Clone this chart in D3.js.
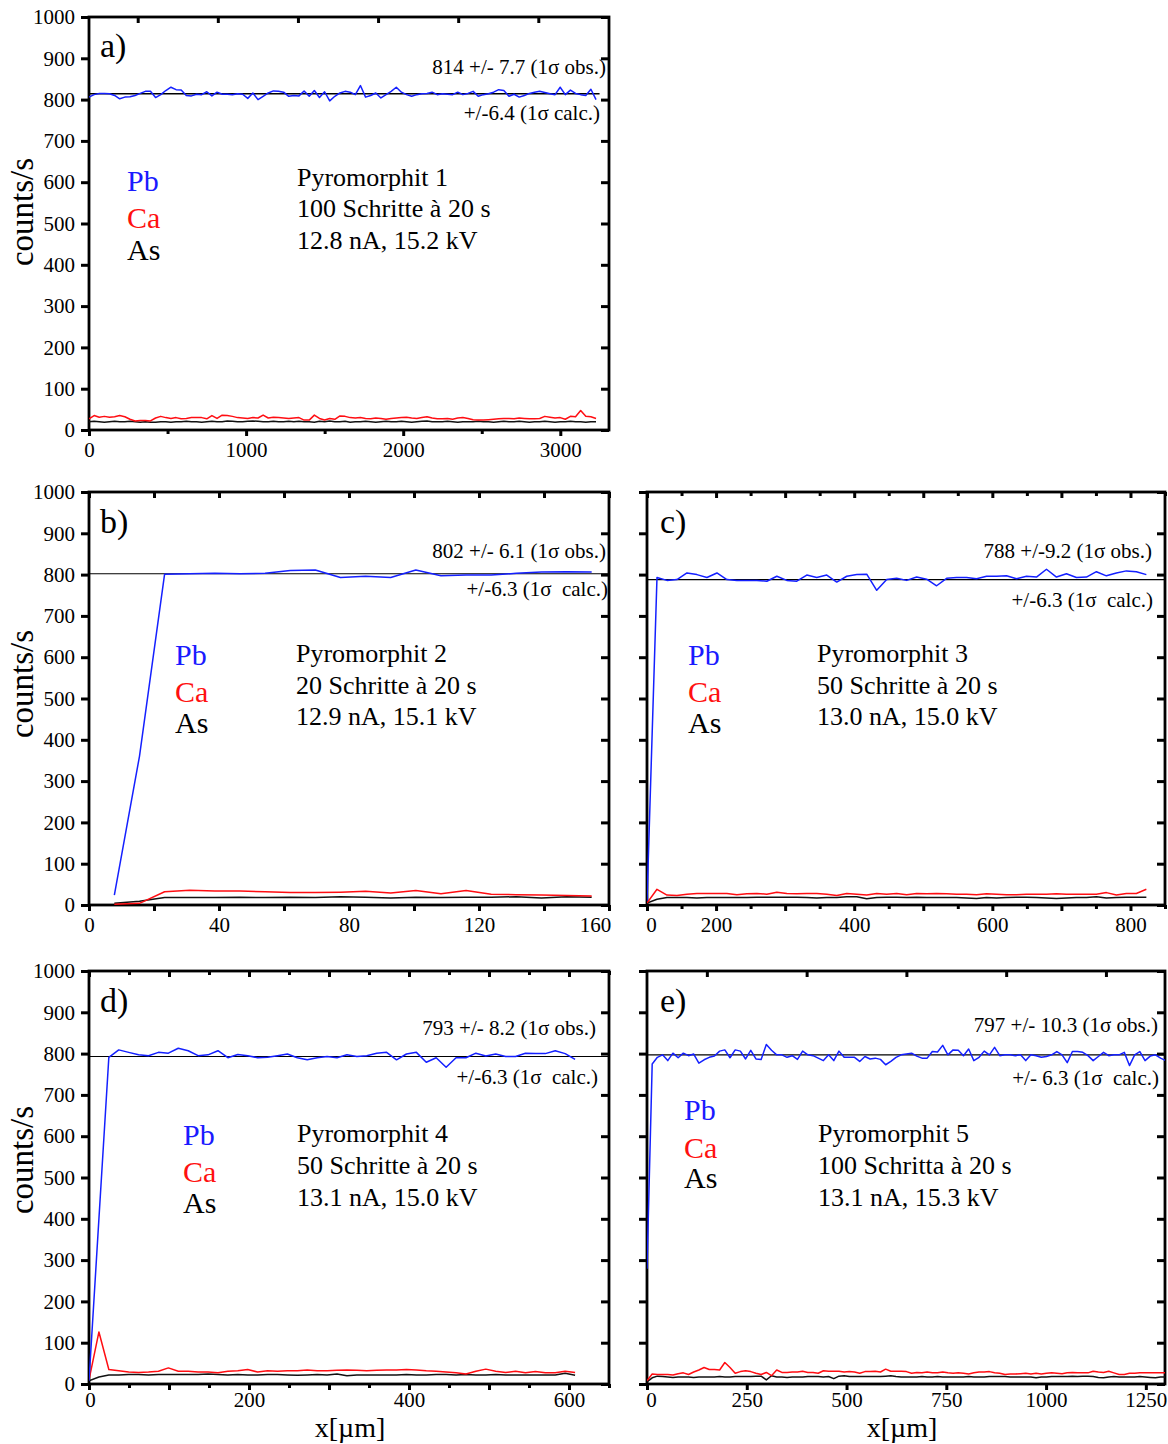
<!DOCTYPE html>
<html>
<head>
<meta charset="utf-8">
<script src="https://cdn.jsdelivr.net/npm/d3@7"></script>
<style>
  body { margin: 0; background: #fff; }
  svg { display: block; font-family: "Liberation Serif", "Times New Roman", serif; }
  svg text { font-family: "Liberation Serif", "Times New Roman", serif; }
</style>
</head>
<body>
<svg id="fig" width="1168" height="1444"></svg>
<script>
// ---------- shared axis values ----------
const yTicks = [0, 100, 200, 300, 400, 500, 600, 700, 800, 900, 1000];
const yTickLabels = ["0", "100", "200", "300", "400", "500", "600", "700", "800", "900", "1000"];
const elements = ["Pb", "Ca", "As"];

// ---------- a) Pyromorphit 1: 100 steps ----------
const aStart = 0, aStep = 32.6;
const aPb = [806,812,815,815,814,810,802,806,807,810,
             815,820,820,805,812,822,830,824,823,810,
             809,813,812,819,809,818,813,813,812,814,
             813,803,816,800,808,816,821,820,818,808,
             810,809,821,808,822,805,819,797,808,816,
             820,818,812,834,806,810,816,804,812,820,
             830,818,812,808,812,814,815,818,812,814,
             813,812,818,812,815,820,808,812,814,818,
             824,822,808,813,806,810,815,818,820,817,
             814,812,830,812,823,815,812,810,825,800];
const aCa = [27,35,31,33,31,32,35,32,26,22,
             23,23,22,29,33,30,28,30,27,28,
             30,30,30,27,35,28,36,35,33,30,
             29,28,30,29,36,29,31,30,29,28,
             29,30,24,24,36,28,24,28,26,34,
             33,30,29,30,28,27,29,28,26,28,
             29,30,31,29,28,30,32,29,27,27,
             28,26,29,30,28,25,24,24,25,26,
             27,28,28,27,29,28,27,27,28,33,
             31,29,30,26,33,32,47,33,32,28];
const aAs = [20,21,20,19,20,21,20,20,21,20,
             19,20,19,19,20,20,19,20,20,21,
             20,20,19,20,21,20,20,22,21,20,
             20,21,22,21,20,20,21,20,20,21,
             20,21,20,20,19,21,20,22,20,20,
             21,19,20,20,21,20,19,20,21,20,
             20,21,20,19,20,21,22,20,20,20,
             21,20,19,20,20,20,21,20,20,19,
             20,21,20,20,21,20,19,20,20,21,
             20,19,20,20,21,20,20,19,20,20];
const aXTicks = [0, 500, 1000, 1500, 2000, 2500, 3000];
const aXLabelValues = [0, 1000, 2000, 3000];
const aXLabels = ["0", "1000", "2000", "3000"];
const aTopTicks = [310, 820, 1330, 1840, 2350, 2860];

// ---------- b) Pyromorphit 2: 20 steps ----------
const bStart = 7.8, bStep = 7.73;
const bPb = [24,360,801,802,803,802,803,810,811,793,796,793,811,797,799,799,803,806,807,806];
const bCa = [2,4,32,36,34,34,32,30,30,31,33,29,35,27,35,26,25,24,23,22];
const bAs = [4,9,18,18,18,19,18,19,18,20,19,17,19,18,19,19,20,17,20,19];
const bXTicks = [0, 20, 40, 60, 80, 100, 120, 140, 160];
const bXLabelValues = [0, 40, 80, 120, 160];
const bXLabels = ["0", "40", "80", "120", "160"];

// ---------- c) Pyromorphit 3: 50 steps ----------
const cStart = 100, cStep = 14.46;
const cPb = [10,793,786,788,804,800,793,804,788,786,
             786,786,784,796,786,784,799,793,799,782,
             796,800,801,762,788,791,786,794,789,773,
             791,793,793,790,796,796,797,790,796,794,
             813,794,802,793,794,807,797,804,809,807,800];
const cCa = [5,38,24,23,26,28,28,28,28,25,
             27,28,26,31,28,27,28,28,26,23,
             28,26,24,28,26,28,25,28,27,28,
             27,26,26,25,27,26,25,25,26,26,
             26,27,26,26,26,26,30,24,28,28,38];
const cAs = [5,14,18,18,18,17,18,18,18,18,
             18,19,19,19,19,19,18,17,18,18,
             20,20,15,18,19,19,18,19,18,18,
             18,18,17,16,18,17,18,19,19,18,
             17,16,17,18,18,20,17,18,19,19,19];
const cXTicks = [100,150,200,250,300,350,400,450,500,550,600,650,700,750,800,850];
const cXLabelValues = [100, 200, 400, 600, 800];
const cXLabels = ["0", "200", "400", "600", "800"];

// ---------- d) Pyromorphit 4: 50 steps ----------
const dStart = 0, dStep = 12.4;
const dPb = [8,400,791,809,803,797,795,803,801,813,
             807,795,797,807,790,798,795,790,791,795,
             799,790,785,790,793,790,797,793,795,801,
             803,785,799,803,779,790,767,790,790,801,
             794,799,793,793,801,800,800,807,800,786];
const dCa = [10,126,35,32,29,28,29,31,39,31,
             31,29,29,27,31,32,35,29,32,31,
             32,32,34,32,32,33,34,33,32,33,
             34,34,35,34,32,31,29,27,24,31,
             36,31,28,31,27,30,27,27,31,28];
const dAs = [8,17,22,22,23,23,22,23,23,23,
             23,23,24,23,22,23,22,22,23,23,
             22,21,22,23,22,24,20,22,22,22,
             22,22,23,22,22,23,23,22,23,22,
             22,23,22,22,22,22,22,22,26,21];
const dXTicks = [0,50,100,150,200,250,300,350,400,450,500,550,600,650];
const dXLabelValues = [0, 200, 400, 600];
const dXLabels = ["0", "200", "400", "600"];

// ---------- e) Pyromorphit 5: 100 steps ----------
const eStart = 0, eStep = 13;
const ePb = [279,775,791,797,783,801,790,801,795,799,
             777,785,791,794,806,809,790,809,806,787,
             808,787,786,822,808,797,797,791,795,786,
             806,797,795,789,783,797,783,806,791,791,
             791,781,793,787,789,786,773,781,791,797,
             799,801,794,789,789,805,804,820,797,809,
             808,795,811,783,791,806,797,815,795,797,
             797,795,797,783,797,795,791,793,797,805,
             797,778,805,805,803,795,783,793,803,795,
             797,797,803,771,797,805,783,794,797,789,783];
const eCa = [8,24,23,23,23,22,25,27,23,29,
             34,40,35,35,34,52,40,26,30,32,
             30,26,23,28,20,34,28,28,29,29,
             31,28,28,26,32,31,31,31,29,30,
             29,26,30,30,31,29,36,31,31,31,
             30,26,28,27,29,27,27,29,27,26,
             27,26,24,27,29,29,30,27,26,23,
             24,24,25,26,24,26,24,26,27,26,
             25,27,28,27,27,27,31,29,28,31,
             27,23,23,26,26,27,27,27,27,27,27];
const eAs = [5,15,19,18,17,16,17,17,17,16,
             17,17,17,17,18,17,17,18,18,18,
             18,19,19,10,20,17,17,16,17,17,
             17,18,18,18,17,18,13,19,20,18,
             18,18,18,18,18,18,19,20,18,17,
             17,17,17,18,17,17,18,17,17,17,
             17,17,18,17,17,17,18,18,18,18,
             17,17,17,17,17,15,17,17,18,18,
             18,18,19,18,19,19,18,16,15,17,
             18,17,17,17,17,18,17,16,15,17,17];
const eXTicks = [0, 250, 500, 750, 1000, 1250];
const eXLabelValues = [0, 250, 500, 750, 1000, 1250];
const eXLabels = ["0", "250", "500", "750", "1000", "1250"];
const eTopTicks = [150, 400, 650, 900, 1150];

// ---------- annotations ----------
const means = { a: 814, b: 802, c: 788, d: 793, e: 797 };
const obsLabels = {
  a: "814 +/- 7.7 (1σ obs.)", b: "802 +/- 6.1 (1σ obs.)", c: "788 +/-9.2 (1σ obs.)",
  d: "793 +/- 8.2 (1σ obs.)", e: "797 +/- 10.3 (1σ obs.)"
};
const calcLabels = {
  a: "+/-6.4 (1σ calc.)", b: "+/-6.3 (1σ  calc.)", c: "+/-6.3 (1σ  calc.)",
  d: "+/-6.3 (1σ  calc.)", e: "+/- 6.3 (1σ  calc.)"
};
const infoLines = {
  a: ["Pyromorphit 1", "100 Schritte à 20 s", "12.8 nA, 15.2 kV"],
  b: ["Pyromorphit 2", "20 Schritte à 20 s", "12.9 nA, 15.1 kV"],
  c: ["Pyromorphit 3", "50 Schritte à 20 s", "13.0 nA, 15.0 kV"],
  d: ["Pyromorphit 4", "50 Schritte à 20 s", "13.1 nA, 15.0 kV"],
  e: ["Pyromorphit 5", "100 Schritta à 20 s", "13.1 nA, 15.3 kV"]
};

// ---------- layout of the five frames ----------
const panels = [
  { id: "a", frame: [89, 17, 609, 430], xDomain: [0, 3310], start: aStart, step: aStep,
    series: [aPb, aCa, aAs], xTicks: aXTicks, xMajor: aXLabelValues, xLabelValues: aXLabelValues, xLabels: aXLabels,
    labelShift: {}, labelPad: 6, topTicks: aTopTicks, meanEnd: 3250, yTitleY: 212, xTitleX: null,
    pos: { letter: [11, 40], obs: [517, 57], calc: [511, 103], legend: [38, 174, 211, 243], info: [208, 169, 200, 232] } },
  { id: "b", frame: [89, 492, 609, 905], xDomain: [0, 160], start: bStart, step: bStep,
    series: [bPb, bCa, bAs], xTicks: bXTicks, xMajor: bXTicks, xLabelValues: bXLabelValues, xLabels: bXLabels,
    labelShift: { 160: -14 }, labelPad: 6, topTicks: bXTicks, meanEnd: 160, yTitleY: 684, xTitleX: null,
    pos: { letter: [11, 41], obs: [517, 66], calc: [519, 104], legend: [86, 173, 210, 241], info: [207, 170, 202, 233] } },
  { id: "c", frame: [647, 492, 1165, 905], xDomain: [100, 850], start: cStart, step: cStep,
    series: [cPb, cCa, cAs], xTicks: cXTicks, xMajor: [100,200,300,400,500,600,700,800], xLabelValues: cXLabelValues, xLabels: cXLabels,
    labelShift: { 100: 4 }, labelPad: 6, topTicks: cXTicks, meanEnd: 850, yTitleY: null, xTitleX: null,
    pos: { letter: [13, 41], obs: [505, 66], calc: [506, 115], legend: [41, 173, 210, 241], info: [170, 170, 202, 233] } },
  { id: "d", frame: [89, 971, 609, 1384], xDomain: [0, 650], start: dStart, step: dStep,
    series: [dPb, dCa, dAs], xTicks: dXTicks, xMajor: [0,100,200,300,400,500,600], xLabelValues: dXLabelValues, xLabels: dXLabels,
    labelShift: { 0: 1 }, labelPad: 2, topTicks: dXTicks, meanEnd: 650, yTitleY: 1160, xTitleX: 350,
    pos: { letter: [11, 41], obs: [507, 64], calc: [509, 113], legend: [94, 174, 211, 242], info: [208, 171, 203, 235] } },
  { id: "e", frame: [647, 971, 1165, 1384], xDomain: [0, 1298], start: eStart, step: eStep,
    series: [ePb, eCa, eAs], xTicks: eXTicks, xMajor: eXTicks, xLabelValues: eXLabelValues, xLabels: eXLabels,
    labelShift: { 0: 4 }, labelPad: 2, topTicks: eTopTicks, meanEnd: 1298, yTitleY: null, xTitleX: 902,
    pos: { letter: [13, 41], obs: [511, 61], calc: [512, 114], legend: [37, 149, 187, 217], info: [171, 171, 203, 235] } }
];

const seriesColors = ["#1420ff", "#ff0d12", "#111111"];
const legendColors = ["#1a1aff", "#ff1010", "#000000"];
const serif = '"Liberation Serif", "Times New Roman", serif';

const svg = d3.select("#fig");
const defs = svg.append("defs");

function labelFormat(values, labels) {
  const m = new Map(values.map((v, i) => [v, labels[i]]));
  return v => (m.has(v) ? m.get(v) : "");
}

function styleAxis(sel, fontSize) {
  sel.select(".domain").remove();
  sel.attr("font-family", serif).attr("font-size", fontSize);
  sel.selectAll(".tick line").attr("stroke", "#000").attr("stroke-width", 3);
  sel.selectAll(".tick text").attr("fill", "#000")
    .style("font-family", serif).style("font-size", fontSize + "px");
}

panels.forEach(p => {
  const [left, top, right, bottom] = p.frame;
  const x = d3.scaleLinear().domain(p.xDomain).range([left, right]);
  const y = d3.scaleLinear().domain([0, 1000]).range([bottom, top]);
  const g = svg.append("g").attr("class", "panel-" + p.id);

  defs.append("clipPath").attr("id", "clip-" + p.id)
    .append("rect").attr("x", left).attr("y", top).attr("width", right - left).attr("height", bottom - top);

  // axes: ticks outward on left/bottom, inward on right/top
  const majorSet = new Set(p.xMajor);
  const gb = g.append("g").attr("transform", `translate(0,${bottom})`)
    .call(d3.axisBottom(x).tickValues(p.xTicks).tickSize(6).tickPadding(p.labelPad)
      .tickFormat(labelFormat(p.xLabelValues, p.xLabels)));
  styleAxis(gb, 21);
  gb.selectAll(".tick line").attr("y2", d => (majorSet.has(d) ? 6 : 4));
  gb.selectAll(".tick text").attr("dx", d => p.labelShift[d] || 0);

  const gt = g.append("g").attr("transform", `translate(0,${top})`)
    .call(d3.axisTop(x).tickValues(p.topTicks).tickSize(-6).tickFormat(() => ""));
  styleAxis(gt, 21);
  gt.selectAll(".tick line").attr("y2", d => (majorSet.has(d) || p.id === "a" || p.id === "e" ? 6 : 4));

  const gl = g.append("g").attr("transform", `translate(${left},0)`)
    .call(d3.axisLeft(y).tickValues(yTicks).tickSize(8).tickPadding(6)
      .tickFormat(p.yTitleY ? labelFormat(yTicks, yTickLabels) : () => ""));
  styleAxis(gl, 21);

  const gr = g.append("g").attr("transform", `translate(${right},0)`)
    .call(d3.axisRight(y).tickValues(yTicks).tickSize(-8).tickFormat(() => ""));
  styleAxis(gr, 21);

  // frame
  g.append("rect").attr("x", left).attr("y", top).attr("width", right - left).attr("height", bottom - top)
    .attr("fill", "none").attr("stroke", "#000").attr("stroke-width", 2.8);

  // profiles
  const plot = g.append("g").attr("clip-path", `url(#clip-${p.id})`);
  const line = d3.line()
    .x((d, i) => x(p.start + i * p.step))
    .y(d => y(d));
  // mean of the Pb plateau
  plot.append("line")
    .attr("x1", x(p.xDomain[0])).attr("x2", x(p.meanEnd))
    .attr("y1", y(means[p.id])).attr("y2", y(means[p.id]))
    .attr("stroke", "#000").attr("stroke-width", p.id === "a" ? 1.6 : 1.2);
  // As, Ca, then Pb on top
  [2, 1, 0].forEach(k => {
    plot.append("path").datum(p.series[k])
      .attr("d", line)
      .attr("fill", "none")
      .attr("stroke", seriesColors[k])
      .attr("stroke-width", 1.5)
      .attr("stroke-linejoin", "round");
  });

  // texts
  const t = (dx, dy) => [left + dx, top + dy];
  const addText = (xy, str, size, anchor, color) =>
    g.append("text").attr("x", xy[0]).attr("y", xy[1])
      .attr("text-anchor", anchor || "start")
      .attr("xml:space", "preserve").style("white-space", "pre")
      .style("font-size", size + "px").attr("fill", color || "#000").text(str);

  addText(t(...p.pos.letter), p.id + ")", 34);
  addText(t(...p.pos.obs), obsLabels[p.id], 21, "end");
  addText(t(...p.pos.calc), calcLabels[p.id], 21, "end");
  elements.forEach((el, k) => addText(t(p.pos.legend[0], p.pos.legend[k + 1]), el, 30, "start", legendColors[k]));
  infoLines[p.id].forEach((s, k) => addText(t(p.pos.info[0], p.pos.info[k + 1]), s, 26));

  if (p.yTitleY) {
    g.append("text")
      .attr("transform", `translate(33,${p.yTitleY}) rotate(-90)`)
      .attr("text-anchor", "middle")
      .style("font-size", "33px").text("counts/s");
  }
  if (p.xTitleX) {
    g.append("text")
      .attr("x", p.xTitleX).attr("y", bottom + 53)
      .attr("text-anchor", "middle")
      .style("font-size", "28px").text("x[µm]");
  }
});
</script>
</body>
</html>
